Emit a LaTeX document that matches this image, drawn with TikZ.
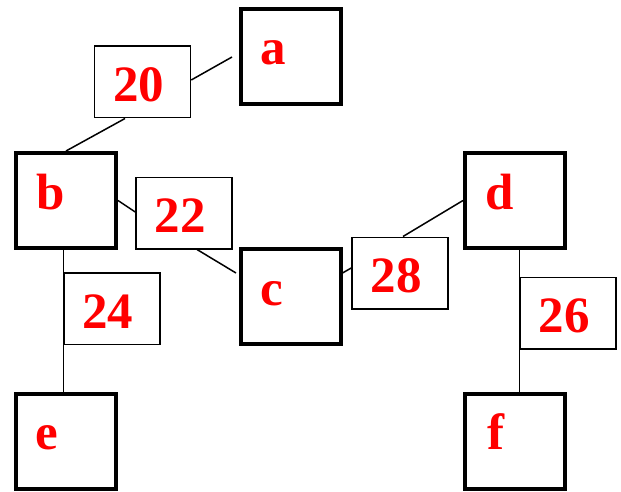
\documentclass[tikz,border=0pt]{standalone}
\usepackage{fontspec}
\setmainfont{Liberation Serif}
\usetikzlibrary{calc}
\begin{document}
\begin{tikzpicture}[x=1pt,y=-1pt,
  vbox/.style={draw=black,line width=4pt,minimum width=100pt,minimum height=95pt,inner sep=0pt},
  wbox/.style={draw=black,line width=1.5pt,minimum width=96pt,minimum height=71.5pt,inner sep=0pt},
  lbl/.style={text=red,font=\fontsize{51}{56}\selectfont\bfseries,anchor=base,inner sep=0pt},
  conn/.style={draw=black,line width=1.5pt}]
\useasboundingbox (0,0) rectangle (621,492);
% vertex boxes
\node[vbox] (a) at (290.5,56.5) {};
\node[vbox] (b) at (66,200.5) {};
\node[vbox] (c) at (290.5,296.5) {};
\node[vbox] (d) at (515,200.5) {};
\node[vbox] (e) at (66,441) {};
\node[vbox] (f) at (515,441) {};
% weight boxes
\node[wbox] (w20) at (142.5,82) {};
\node[wbox] (w22) at (184,213) {};
\node[wbox] (w24) at (112,308.5) {};
\node[wbox] (w28) at (400,273) {};
\node[wbox] (w26) at (568,313) {};
% labels
\node[lbl] (la) at (273.5,65) {a};
\node[lbl] (lb) at (51,209) {b};
\node[lbl] (lc) at (272,305) {c};
\node[lbl] (ld) at (499.5,209) {d};
\node[lbl] (le) at (47,449) {e};
\node[lbl] (lf) at (495.5,449) {f};
\node[lbl] (l20) at (138.5,102) {20};
\node[lbl] (l22) at (180,232) {22};
\node[lbl] (l24) at (107.5,328) {24};
\node[lbl] (l28) at (396,292) {28};
\node[lbl] (l26) at (564,332) {26};
% free ends
\coordinate (ga) at (232,57);
\coordinate (gc) at (236,273);
% connectors
\draw[conn] ($(w20.east)+(0,-2)$) -- (ga);
\draw[conn] ($(w20.south)+(-17.5,0)$) -- (b.north);
\draw[conn] (b.east) -- ($(w22.west)+(0,-1)$);
\draw[conn] ($(w22.south)+(13,0)$) -- (gc);
\draw[conn] ($(c.east)+(0,-23.5)$) -- ($(w28.west)+(0,-5)$);
\draw[conn] ($(w28.north)+(3,0)$) -- (d.west);
\draw[conn] (w24.north west) -- (w24.north west |- b.south);
\draw[conn] (w24.south west) -- (w24.south west |- e.north);
\draw[conn] (w26.north west) -- (w26.north west |- d.south);
\draw[conn] (w26.south west) -- (w26.south west |- f.north);
\end{tikzpicture}
\end{document}
